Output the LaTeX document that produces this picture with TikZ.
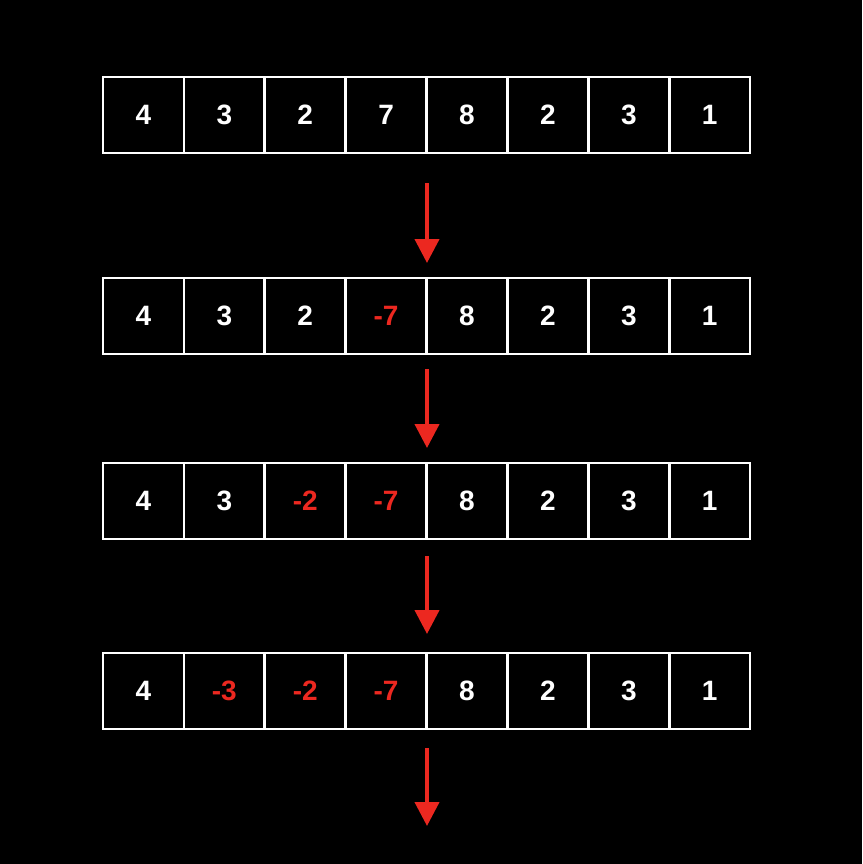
\documentclass[tikz,border=0pt]{standalone}
\usepackage{fontspec}
\setmainfont{Liberation Sans}
\usetikzlibrary{arrows.meta}
\definecolor{myred}{RGB}{236,40,32}
\tikzset{
  cell/.style={draw=white, line width=2.5pt, minimum width=81pt, minimum height=76pt, inner sep=0pt, text=white, font=\fontsize{28}{30}\selectfont\bfseries},
  neg/.style={text=myred},
  flow/.style={draw=myred, line width=4pt, -{Triangle[length=24pt,width=24pt]}}
}
\begin{document}
\begin{tikzpicture}[x=1pt,y=-1pt]
\fill[black] (0,0) rectangle (862,864);
\useasboundingbox (0,0) rectangle (862,864);
\foreach \r/\y/\vals in {a/115/{4,3,2,7,8,2,3,1}, b/316/{4,3,2,-7,8,2,3,1}, c/501/{4,3,-2,-7,8,2,3,1}, d/691/{4,-3,-2,-7,8,2,3,1}}{
  \foreach \v [count=\i] in \vals {
    \pgfmathsetmacro{\xx}{103+81*(\i-0.5)-0.1*\i}
    \ifdim \v pt<0pt
      \node[cell,neg] (\r\i) at (\xx,\y) {-\the\numexpr-\v\relax};
    \else
      \node[cell] (\r\i) at (\xx,\y) {\v};
    \fi
  }
}
\coordinate (s1) at (427,183); \coordinate (e1) at (427,263);
\coordinate (s2) at (427,369); \coordinate (e2) at (427,448);
\coordinate (s3) at (427,556); \coordinate (e3) at (427,634);
\coordinate (s4) at (427,748); \coordinate (e4) at (427,826);
\foreach \k in {1,2,3,4}{\draw[flow] (s\k) -- (e\k);}
\end{tikzpicture}
\end{document}
